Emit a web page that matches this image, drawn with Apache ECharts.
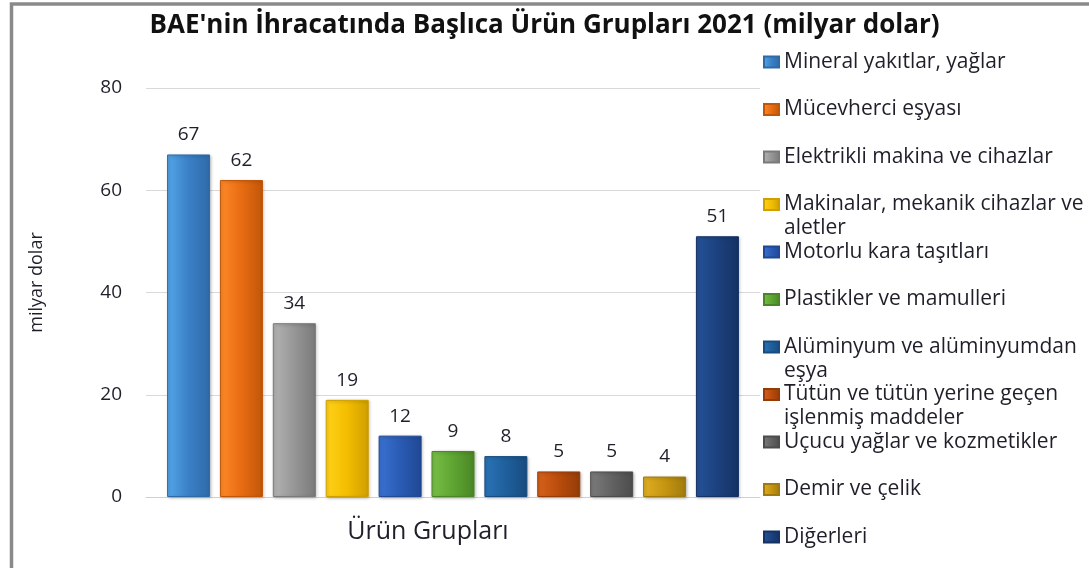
<!DOCTYPE html>
<html>
<head>
<meta charset="utf-8">
<script src="https://cdn.jsdelivr.net/npm/echarts@6/dist/echarts.min.js"></script>
<style>
  html, body { margin: 0; padding: 0; background: #fff; }
  #chart { width: 1089px; height: 568px; }
</style>
</head>
<body>
<div id="chart"></div>
<script>
var categories = ['Ürün Grupları'];
var groupNames = [
  'Mineral yakıtlar, yağlar',
  'Mücevherci eşyası',
  'Elektrikli makina ve cihazlar',
  'Makinalar, mekanik cihazlar ve aletler',
  'Motorlu kara taşıtları',
  'Plastikler ve mamulleri',
  'Alüminyum ve alüminyumdan eşya',
  'Tütün ve tütün yerine geçen işlenmiş maddeler',
  'Uçucu yağlar ve kozmetikler',
  'Demir ve çelik',
  'Diğerleri'
];
var groupValues = [67, 62, 34, 19, 12, 9, 8, 5, 5, 4, 51];
var yTicks = [0, 20, 40, 60, 80];

// wrapped legend labels, as in the picture
var legendText = {
  'Makinalar, mekanik cihazlar ve aletler': 'Makinalar, mekanik cihazlar ve\naletler',
  'Alüminyum ve alüminyumdan eşya': 'Alüminyum ve alüminyumdan\neşya',
  'Tütün ve tütün yerine geçen işlenmiş maddeler': 'Tütün ve tütün yerine geçen\nişlenmiş maddeler'
};

var colors = [
  ['#54a6ea', '#3a80c6', '#2f6aa8'],
  ['#ff8a2a', '#e86c12', '#c0560a'],
  ['#b4b4b4', '#969696', '#7a7a7a'],
  ['#ffd21a', '#f4bd00', '#cf9f00'],
  ['#3a72d2', '#2a5bb4', '#204894'],
  ['#79bf48', '#5ea532', '#4a8625'],
  ['#2a74b8', '#1f5f9c', '#184c80'],
  ['#d8621a', '#b94c0c', '#943c08'],
  ['#7c7c7c', '#626262', '#4c4c4c'],
  ['#e0ae22', '#c69612', '#a07a0c'],
  ['#25529a', '#1c417e', '#153264']
];

var font = '"Open Sans", "DejaVu Sans", sans-serif';
var textColor = '#1f1f2a';
var legendLine = 24;

var chart = echarts.init(document.getElementById('chart'));

var series = groupNames.map(function (name, i) {
  var c = colors[i];
  return {
    name: name,
    type: 'bar',
    barWidth: 43,
    barGap: '23%',
    data: [groupValues[i]],
    itemStyle: {
      color: new echarts.graphic.LinearGradient(0, 0, 1, 0, [
        { offset: 0, color: c[0] },
        { offset: 0.5, color: c[1] },
        { offset: 1, color: c[2] }
      ]),
      borderColor: c[2],
      borderWidth: 1,
      shadowColor: 'rgba(0,0,0,0.25)',
      shadowBlur: 3,
      shadowOffsetX: 1,
      shadowOffsetY: 1
    },
    label: {
      show: true,
      position: 'top',
      distance: 10,
      color: textColor,
      fontFamily: font,
      fontSize: 19
    }
  };
});

// all legend entries are three lines tall so the spacing stays even;
// wrapped ones get an empty first line so the icon sits on their first line
var legendData = groupNames.map(function (name) {
  var twoLines = !!legendText[name];
  return {
    name: name,
    textStyle: {
      padding: twoLines ? 0 : [legendLine, 0, legendLine, 0]
    }
  };
});

var option = {
  backgroundColor: '#fff',
  animation: false,
  title: {
    text: "BAE'nin İhracatında Başlıca Ürün Grupları 2021 (milyar dolar)",
    left: 'center',
    top: 8,
    textStyle: { fontFamily: font, fontSize: 26, fontWeight: 'bold', color: '#111' }
  },
  legend: {
    orient: 'vertical',
    left: 763,
    top: 26,
    height: 700,
    padding: 0,
    itemWidth: 15,
    itemHeight: 11,
    itemGap: 47.5 - 3 * legendLine,
    icon: 'rect',
    data: legendData,
    formatter: function (name) { return legendText[name] ? '\n' + legendText[name] : name; },
    textStyle: {
      fontFamily: font,
      fontSize: 21,
      color: textColor,
      lineHeight: legendLine
    }
  },
  grid: { left: 146, right: 329, top: 88, bottom: 71 },
  xAxis: {
    type: 'category',
    data: categories,
    axisLine: { lineStyle: { color: '#d0d0d0' } },
    axisTick: { show: false },
    axisLabel: {
      margin: 22, fontFamily: font, fontSize: 25, color: textColor,
      padding: [0, 50, 0, 0]
    }
  },
  yAxis: {
    type: 'value',
    min: yTicks[0],
    max: yTicks[yTicks.length - 1],
    interval: yTicks[1] - yTicks[0],
    name: 'milyar dolar',
    nameLocation: 'middle',
    nameRotate: 90,
    nameGap: 100,
    nameTextStyle: { fontFamily: font, fontSize: 18, color: textColor, padding: [0, 0, 0, 20] },
    axisLine: { show: false },
    axisTick: { show: false },
    axisLabel: { margin: 24, fontFamily: font, fontSize: 19, color: textColor },
    splitLine: { lineStyle: { color: '#d9d9d9' } }
  },
  graphic: [{
    type: 'rect',
    silent: true,
    shape: { x: 11.5, y: 4, width: 1200, height: 700 },
    style: { fill: null, stroke: '#8a8a8a', lineWidth: 3.5 }
  }],
  series: series
};

chart.setOption(option);
</script>
</body>
</html>
